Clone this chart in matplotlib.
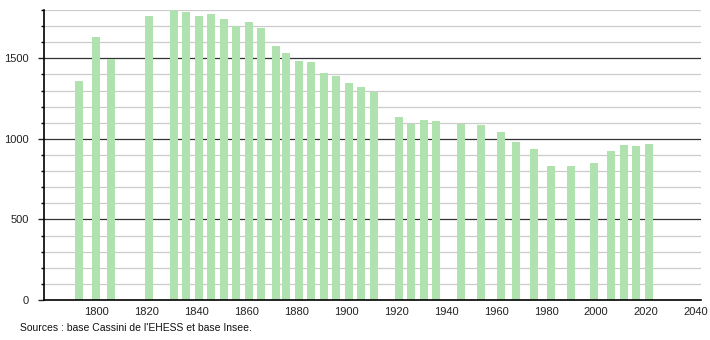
import matplotlib
matplotlib.use("Agg")
import matplotlib.pyplot as plt
from matplotlib.ticker import MultipleLocator

years = [1793, 1800, 1806, 1821, 1831, 1836, 1841, 1846, 1851, 1856, 1861, 1866,
         1872, 1876, 1881, 1886, 1891, 1896, 1901, 1906, 1911, 1921, 1926, 1931,
         1936, 1946, 1954, 1962, 1968, 1975, 1982, 1990, 1999, 2006, 2011, 2016, 2021]
population = [1362, 1634, 1497, 1761, 1798, 1786, 1761, 1773, 1746, 1703, 1728, 1690,
              1578, 1534, 1485, 1478, 1412, 1393, 1348, 1321, 1293, 1134, 1094, 1115,
              1109, 1094, 1088, 1042, 980, 936, 830, 830, 849, 922, 961, 955, 969]
x_ticks = [1800, 1820, 1840, 1860, 1880, 1900, 1920, 1940, 1960, 1980, 2000, 2020, 2040]
y_ticks = [0, 500, 1000, 1500]
source_text = "Sources : base Cassini de l'EHESS et base Insee."

plt.rcParams['font.family'] = ['Liberation Sans', 'DejaVu Sans']

fig = plt.figure(figsize=(7.1, 3.4), dpi=100)
ax = fig.add_axes([44/710, 1 - 300/340, (701-44)/710, 290/340])

# grid lines
for v in range(100, 1801, 100):
    if v % 500 == 0:
        ax.axhline(v, color='#333333', lw=0.9, zorder=1)
    else:
        ax.axhline(v, color='#cccccc', lw=0.9, zorder=1)

ax.bar(years, population, width=3.2, color='#b0e2b0', zorder=2, linewidth=0)

ax.set_xlim(1779, 2042)
ax.set_ylim(0, 1800)
ax.set_xticks(x_ticks)
ax.set_xticklabels([str(t) for t in x_ticks])
ax.set_yticks(y_ticks)
ax.set_yticklabels([str(t) for t in y_ticks])
ax.yaxis.set_minor_locator(MultipleLocator(100))

for s in ['top', 'right']:
    ax.spines[s].set_visible(False)
ax.spines['left'].set_linewidth(1.2)
ax.spines['bottom'].set_linewidth(1.2)

ax.tick_params(axis='x', length=0, pad=5, labelsize=8, colors='#222222')
ax.tick_params(axis='y', which='major', length=4, width=1, pad=7, labelsize=8, colors='#222222')
ax.tick_params(axis='y', which='minor', length=2.5, width=1)

fig.text(20/710, 1 - 328/340, source_text, fontsize=7.5, ha='left', va='center', color='#111111')

fig.savefig('out.png', dpi=100)
